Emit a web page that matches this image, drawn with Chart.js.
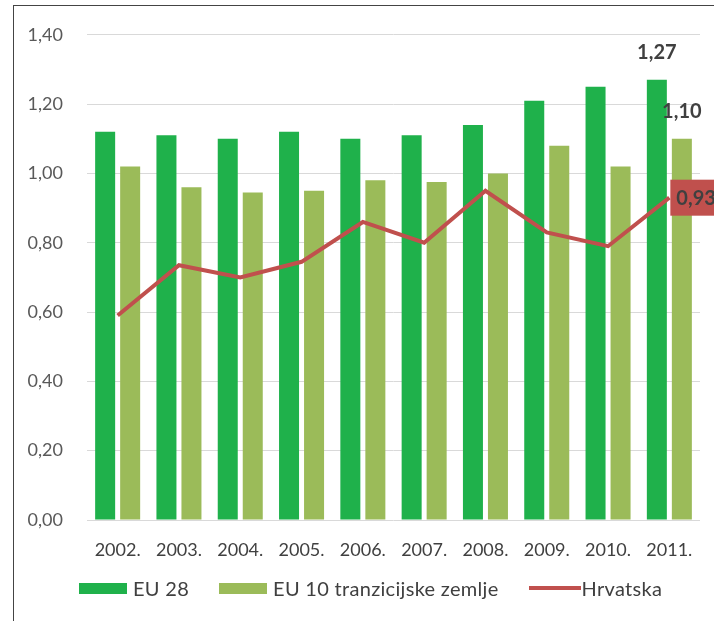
<!DOCTYPE html>
<html>
<head>
<meta charset="utf-8">
<script src="https://cdn.jsdelivr.net/npm/chart.js@4"></script>
<style>
    html, body { margin: 0; padding: 0; background: #fff; overflow: hidden; }
    #wrap { position: relative; width: 714px; height: 621px; }
    #frame { position: absolute; left: 13px; top: 5px; width: 800px; height: 700px; border: 1px solid #444; }
    #chart { position: absolute; left: 0; top: 0; }
    #legend { position: absolute; left: 79px; top: 577px; height: 22px; display: flex; align-items: center;
              font-family: Lato, "Open Sans", sans-serif; font-size: 20px; letter-spacing: 0.3px; color: #404040; }
    .item { display: flex; align-items: center; margin-right: 30px; }
    .box { width: 48px; height: 11px; margin-right: 6px; }
    .ln { width: 52px; height: 4px; margin-right: 1px; }
</style>
</head>
<body>
<div id="wrap">
    <div id="frame"></div>
    <canvas id="chart" width="714" height="621"></canvas>
    <div id="legend"></div>
</div>
<script>
// Podaci
const years = ['2002.', '2003.', '2004.', '2005.', '2006.', '2007.', '2008.', '2009.', '2010.', '2011.'];
const eu28 = [1.12, 1.11, 1.10, 1.12, 1.10, 1.11, 1.14, 1.21, 1.25, 1.27];
const eu10 = [1.02, 0.96, 0.945, 0.95, 0.98, 0.975, 1.00, 1.08, 1.02, 1.10];
const hrvatska = [0.59, 0.735, 0.70, 0.745, 0.86, 0.80, 0.95, 0.83, 0.79, 0.93];
const yTicks = [0, 0.2, 0.4, 0.6, 0.8, 1.0, 1.2, 1.4];

const names = ['EU 28', 'EU 10 tranzicijske zemlje', 'Hrvatska'];
const colors = ['#1fb14b', '#9bbb59', '#c0504d'];

const fmt = v => v.toFixed(2).replace('.', ',');
const FONT = 'Lato, "Open Sans", sans-serif';

// Oznake vrijednosti za zadnju godinu
const lastLabels = {
    id: 'lastLabels',
    afterDatasetsDraw(chart) {
        const ctx = chart.ctx;
        const last = years.length - 1;
        ctx.save();
        ctx.font = 'bold 20px ' + FONT;
        ctx.fillStyle = '#404040';
        ctx.textAlign = 'center';
        ctx.textBaseline = 'middle';
        [[0, eu28], [1, eu10]].forEach(([i, arr]) => {
            const bar = chart.getDatasetMeta(i).data[last];
            ctx.fillText(fmt(arr[last]), bar.x, bar.y - 27);
        });
        // crveni okvir za Hrvatsku
        const pt = chart.getDatasetMeta(2).data[last];
        const txt = fmt(hrvatska[last]);
        const w = ctx.measureText(txt).width + 14;
        ctx.fillStyle = colors[2];
        ctx.fillRect(pt.x + 1, pt.y - 18, w, 36);
        ctx.fillStyle = '#404040';
        ctx.textAlign = 'left';
        ctx.fillText(txt, pt.x + 7, pt.y + 1);
        ctx.restore();
    }
};

new Chart(document.getElementById('chart'), {
    type: 'bar',
    data: {
        labels: years,
        datasets: [
            { label: names[0], data: eu28, backgroundColor: colors[0], order: 2 },
            { label: names[1], data: eu10, backgroundColor: colors[1], order: 2 },
            {
                label: names[2], data: hrvatska, type: 'line',
                borderColor: colors[2], backgroundColor: colors[2],
                borderWidth: 4, pointRadius: 0, tension: 0, order: 1
            }
        ]
    },
    options: {
        responsive: false,
        animation: false,
        events: [],
        barPercentage: 0.8,
        categoryPercentage: 0.816,
        layout: { padding: { top: 32, right: 14, bottom: 61, left: 0 } },
        plugins: {
            legend: { display: false },
            tooltip: { enabled: false }
        },
        scales: {
            x: {
                grid: { display: false, drawTicks: false },
                border: { display: false },
                ticks: { color: '#404040', font: { family: FONT, size: 18 }, padding: 19, maxRotation: 0, autoSkip: false },
                afterFit(scale) { scale.height = 40; }
            },
            y: {
                min: 0,
                max: 1.4,
                afterBuildTicks(scale) { scale.ticks = yTicks.map(v => ({ value: v })); },
                grid: { color: '#d9d9d9', drawTicks: false },
                border: { display: false },
                ticks: {
                    color: '#595959',
                    font: { family: FONT, size: 18 },
                    padding: 24,
                    callback: v => fmt(v)
                },
                afterFit(scale) { scale.width = 87; }
            }
        }
    },
    plugins: [lastLabels]
});

// Legenda
const legend = document.getElementById('legend');
names.forEach((n, i) => {
    const item = document.createElement('div');
    item.className = 'item';
    const mark = document.createElement('span');
    mark.className = i === 2 ? 'ln' : 'box';
    mark.style.background = colors[i];
    const t = document.createElement('span');
    t.textContent = n;
    item.appendChild(mark);
    item.appendChild(t);
    legend.appendChild(item);
});
</script>
</body>
</html>
